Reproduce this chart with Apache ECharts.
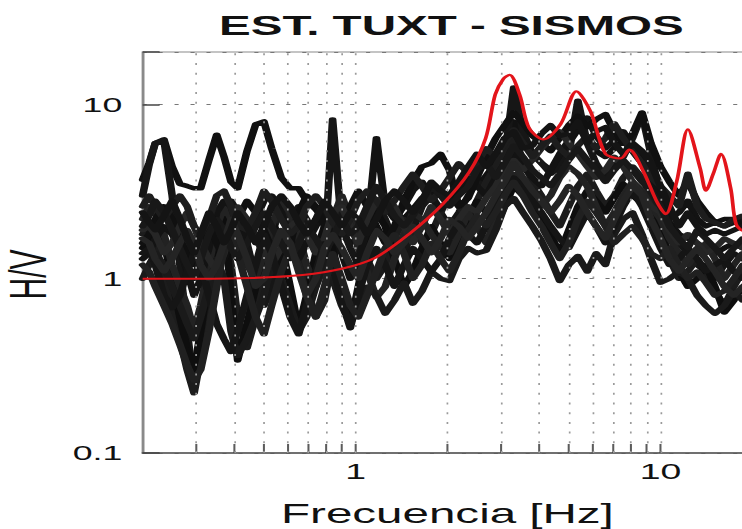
<!DOCTYPE html>
<html>
<head>
<meta charset="utf-8">
<script src="https://cdn.jsdelivr.net/npm/echarts@6/dist/echarts.min.js"></script>
<style>
html,body{margin:0;padding:0;background:#fff;overflow:hidden;}
#c{width:437px;height:529px;transform:scaleX(1.698);transform-origin:0 0;}
</style>
</head>
<body>
<div id="c"></div>
<script>
// ---- data ----
const titleText = 'EST. TUXT - SISMOS';
const xName = 'Frecuencia [Hz]';
const yName = 'H/V';
const xTickLabels = ['1', '10'];
const yTickLabels = ['0.1', '1', '10'];
const xGridValues = [0.3,0.4,0.5,0.6,0.7,0.8,0.9,1,2,3,4,5,6,7,8,9,10];
const xMinorTicks = [0.3,0.4,0.5,0.6,0.7,0.8,0.9,1,2,3,4,5,6,7,8,9,10];

const freq = [0.2,0.21,0.22,0.235,0.25,0.265,0.28,0.295,0.31,0.33,0.35,
  0.37,0.39,0.41,0.44,0.47,0.5,0.53,0.57,0.61,0.65,
  0.69,0.74,0.79,0.84,0.9,0.96,1.02,1.09,1.17,1.25,
  1.34,1.44,1.54,1.65,1.77,1.9,2.03,2.18,2.34,2.5,
  2.68,2.88,3.08,3.3,3.54,3.8,4.07,4.36,4.67,5.0,
  5.36,5.75,6.15,6.6,7.05,7.55,8.1,8.7,9.3,10,
  10.7,11.5,12.3,13.2,14.1,15.1,16.2,17.4,18.6,20];

const hv01 = [3.7,4.6,6.0,6.3,4.4,3.5,3.4,3.3,3.3,4.8,6.7,
  5.0,3.6,3.3,5.4,7.7,8.0,5.6,3.8,3.3,3.3,
  2.8,2.5,2.2,2.0,1.8,1.6,1.7,2.0,2.3,2.6,
  2.4,2.2,2.5,2.9,3.2,3.0,2.8,3.2,3.6,3.4,
  3.9,4.6,5.5,8.0,6.5,5.2,4.6,4.2,4.8,6.0,
  7.2,6.5,5.4,5.0,5.6,6.2,5.4,4.6,3.6,2.6,
  2.1,1.8,1.7,1.6,1.5,1.4,1.5,1.6,1.5,1.4,1.5];
const hv02 = [3.0,4.5,6.0,6.2,3.0,1.2,0.5,0.24,0.4,0.8,1.4,
  2.2,2.8,2.4,1.6,1.0,0.7,0.9,1.4,2.2,2.6,
  2.2,1.6,1.4,8.2,2.0,1.5,1.2,1.8,2.8,2.2,
  1.6,1.4,1.9,2.6,3.0,2.4,2.0,2.4,3.0,3.6,
  3.4,4.2,5.0,12.5,7.0,5.2,4.6,4.0,4.4,5.2,
  10.5,6.0,4.6,3.8,4.4,5.0,6.4,8.8,5.2,3.0,
  2.0,1.6,1.4,1.2,1.1,1.0,1.2,1.4,1.3,1.2];
const hv03 = [1.8,2.0,1.6,1.0,0.68,0.45,0.3,0.22,0.35,0.7,1.3,
  1.8,1.2,0.6,0.4,0.6,1.1,1.8,2.6,2.2,1.4,
  0.9,0.6,0.75,1.3,2.0,2.4,1.8,1.3,1.0,1.2,
  1.7,2.2,2.0,1.6,1.8,2.4,3.0,2.6,2.2,2.8,
  3.6,4.4,5.6,6.5,4.8,3.6,3.0,2.4,2.0,2.6,
  3.4,4.0,3.2,2.6,3.0,3.8,4.4,3.8,3.0,2.0,
  1.3,1.0,1.1,1.3,1.1,0.85,0.7,0.9,1.1,1.0];
const hv04 = [1.5,1.7,2.0,1.6,1.0,0.6,0.4,0.3,0.5,1.0,1.9,
  2.4,0.8,0.34,0.55,0.9,1.3,2.2,1.6,0.9,0.52,
  0.8,1.4,2.0,1.5,0.9,0.55,0.9,1.6,2.4,2.0,
  1.3,0.9,1.1,1.5,2.0,1.6,1.3,1.6,2.2,2.8,
  2.4,2.0,2.6,3.4,3.0,2.6,2.2,1.8,1.4,1.9,
  2.6,3.2,2.8,2.4,2.9,3.5,3.0,2.7,2.5,1.8,
  1.4,1.1,0.9,1.0,1.2,0.9,0.64,0.75,0.9,0.8];
const hv05 = [2.2,2.6,2.4,1.8,1.2,0.9,0.7,0.5,0.7,1.2,2.0,
  2.6,2.2,1.6,1.2,1.0,1.4,2.0,2.8,2.4,1.8,
  1.2,0.9,1.2,2.2,3.0,2.2,1.5,1.1,0.78,0.9,
  1.3,1.8,2.4,2.2,1.8,1.5,1.4,1.8,2.4,2.0,
  1.6,2.2,3.0,4.0,3.6,3.0,2.6,3.0,3.8,4.4,
  4.0,3.4,2.6,2.0,2.4,3.0,3.6,3.2,2.6,2.2,
  1.7,1.4,1.2,1.4,1.6,1.3,1.0,1.2,1.4,1.3];
const hv06 = [1.3,1.4,1.7,2.0,1.8,1.5,1.1,0.8,1.0,1.5,2.4,
  2.8,2.6,2.0,1.6,2.2,2.8,3.0,2.4,1.7,1.3,
  1.6,2.0,2.5,2.0,1.4,1.0,1.3,1.9,6.4,2.6,
  2.2,2.6,3.2,3.6,3.0,2.5,2.8,3.4,3.8,3.4,
  3.0,3.8,4.6,5.4,4.4,3.8,3.4,4.2,5.2,6.2,
  7.6,8.4,6.6,5.6,6.2,7.0,5.8,4.8,4.0,2.8,
  2.2,2.4,2.8,2.2,2.0,2.1,2.0,2.1,2.2,2.1];
const hv07 = [1.0,1.2,1.4,1.2,0.9,0.7,0.55,0.45,0.6,0.9,1.3,
  1.0,0.5,0.36,0.45,0.6,0.8,1.2,1.0,0.7,0.5,
  0.6,0.9,1.3,1.0,0.7,0.55,0.7,0.9,0.8,0.63,
  0.75,0.95,0.72,0.85,1.1,1.0,0.97,1.3,1.5,1.4,
  1.45,1.9,2.6,2.9,2.4,2.0,1.65,1.3,0.97,1.2,
  1.35,1.1,1.4,1.2,1.8,2.2,2.4,1.8,1.3,0.95,
  1.0,1.1,1.0,0.8,0.7,0.63,0.7,0.85,0.75,0.8];
const hv08 = [1.6,1.8,2.2,2.6,2.2,1.7,1.4,1.2,1.5,2.0,1.6,
  1.3,1.6,2.2,2.8,2.4,1.9,1.5,1.2,1.6,2.4,
  3.0,2.6,2.0,1.6,1.9,2.6,3.2,2.6,2.0,1.6,
  2.0,2.8,3.6,4.4,4.6,5.2,4.2,2.6,2.9,3.8,
  5.0,6.4,7.6,9.0,7.8,6.6,6.0,5.4,6.4,7.6,
  8.6,7.4,8.2,8.8,7.0,6.0,6.8,9.0,6.0,4.4,
  3.6,3.0,3.6,2.8,2.4,2.1,2.2,2.2,2.0,1.9];
const hv09 = [1.9,2.0,1.8,1.4,1.6,2.0,2.4,2.0,1.6,1.3,1.1,
  1.4,2.0,2.6,2.2,1.7,1.4,1.2,1.5,2.0,2.2,
  1.8,1.4,1.7,2.4,2.6,2.0,1.6,2.2,2.8,3.0,
  2.6,2.0,1.6,2.0,2.6,2.2,1.8,2.2,2.6,2.4,
  2.9,3.4,4.2,4.8,4.2,4.8,5.6,6.4,7.0,6.0,
  5.2,4.4,3.8,4.2,5.0,4.4,3.6,3.0,2.6,2.4,
  1.9,1.6,1.8,1.6,1.4,1.5,1.7,1.6,1.5,1.6];
const hv10 = [1.4,1.5,1.2,0.8,0.68,0.8,1.1,1.4,1.2,0.8,0.55,
  0.45,0.38,0.5,0.8,1.2,1.8,1.4,0.9,0.6,0.48,
  0.7,1.1,1.6,1.2,0.75,0.52,0.8,1.2,1.5,1.2,
  0.9,1.2,1.5,1.3,1.1,1.3,1.7,2.1,1.8,1.6,
  2.0,2.6,3.4,3.8,3.4,2.8,2.4,2.0,1.7,1.5,
  1.9,2.4,2.0,1.6,2.0,2.6,3.2,2.6,2.0,1.5,
  1.2,1.3,1.5,1.3,1.1,1.2,1.3,1.1,1.0,1.1];
const hv11 = [2.6,3.0,2.6,2.2,2.6,3.0,2.6,2.0,1.8,2.2,3.0,
  3.2,2.6,2.0,1.9,2.4,3.2,2.8,2.2,1.8,2.0,
  2.6,3.0,2.6,2.1,1.8,2.2,2.8,3.2,2.8,2.4,
  2.8,3.4,4.0,3.4,2.8,3.2,3.8,4.6,4.0,4.6,
  5.6,5.0,6.0,7.2,6.0,5.0,5.8,6.6,5.6,5.0,
  5.8,6.6,5.6,6.4,7.8,6.4,5.4,4.6,3.8,3.4,
  3.0,2.6,4.0,2.6,2.2,2.1,2.0,2.2,2.3,2.2];
const hv12 = [1.2,1.1,0.9,0.7,0.55,0.42,0.32,0.26,0.3,0.5,0.9,
  1.5,1.9,1.4,0.9,0.6,0.48,0.7,1.1,1.5,1.2,
  0.8,0.6,0.9,1.4,1.0,0.7,0.6,0.8,1.1,1.5,
  1.8,1.4,1.0,1.2,1.6,1.3,1.1,1.4,1.9,2.3,
  2.0,2.4,3.0,3.6,3.0,2.4,2.0,1.6,1.3,1.6,
  2.2,2.8,2.4,2.0,1.6,1.8,2.0,1.7,1.4,1.3,
  1.5,1.2,1.0,1.1,0.95,0.8,0.85,1.0,1.2,1.1];
const hv13 = [2.0,2.3,2.8,2.4,1.9,1.5,1.2,1.0,1.3,1.8,2.2,
  1.9,1.5,1.3,1.6,2.0,2.4,2.0,1.6,1.3,1.6,
  2.0,1.7,1.4,1.7,2.2,1.8,2.0,2.6,3.4,2.8,
  2.3,2.0,2.3,2.8,3.4,3.0,2.6,3.0,3.4,4.2,
  4.6,3.8,4.6,5.8,5.0,4.2,3.8,3.4,4.0,4.8,
  5.6,4.8,4.2,3.6,4.2,4.8,4.2,3.6,3.2,2.6,
  2.0,1.7,1.5,1.9,1.7,1.5,1.3,1.5,1.7,1.6];
const hv14 = [1.7,1.6,1.3,1.1,1.3,1.6,1.9,1.6,1.2,1.0,1.2,
  1.6,2.2,1.8,1.3,0.9,1.0,1.4,1.9,1.6,1.1,
  0.8,1.0,1.5,1.8,1.5,1.2,1.0,1.4,1.9,1.7,
  1.4,1.6,2.0,1.7,1.4,1.7,2.2,2.0,1.7,2.0,
  2.4,3.0,3.6,4.6,3.8,3.2,2.8,2.4,2.8,3.4,
  3.0,2.4,2.0,1.7,2.2,2.8,3.4,3.0,2.2,1.7,
  1.3,1.1,1.3,1.5,1.3,1.1,0.9,0.8,0.9,1.0];
const hv15 = [2.4,2.1,1.9,2.3,2.8,2.2,1.7,1.4,1.8,2.4,2.0,
  1.6,1.9,2.4,2.0,1.6,2.0,2.6,3.0,2.6,2.1,
  1.8,2.2,2.8,2.4,2.0,2.4,2.2,1.8,2.2,2.8,
  3.2,2.8,2.4,2.8,3.6,3.2,3.0,3.6,4.4,5.2,
  4.4,5.2,6.4,7.0,5.6,5.8,6.8,7.6,6.6,6.8,
  8.0,6.0,7.0,7.4,6.0,5.2,6.0,5.4,4.6,3.4,
  2.6,2.0,2.4,2.0,1.8,1.9,1.8,1.9,2.0,1.9];

const redFreq = [0.2,0.3,0.46,0.67,0.9,1.16,1.5,1.93,2.36,2.67,2.87,3.05,3.2,3.45,3.71,
  4.13,4.7,5.3,5.9,6.6,7.4,7.9,8.8,9.7,10.4,11.3,12.3,13.5,14.1,14.9,15.8,17.0,17.7,18.8,20];
const redHV = [1.0,1.0,1.01,1.05,1.14,1.32,1.81,2.68,4.1,6.4,11.4,14.0,14.8,11.4,7.3,
  6.3,7.7,11.9,9.1,5.2,4.9,5.5,4.1,2.8,2.35,3.6,7.2,4.3,3.2,4.0,5.2,3.3,2.06,1.88,1.9];

const blackCurves = [hv01,hv02,hv03,hv04,hv05,hv06,hv07,hv08,hv09,hv10,hv11,hv12,hv13,hv14,hv15];
const blackColors = ['#111111','#161616','#1c1c1c','#0e0e0e','#222222','#131313',
  '#1a1a1a','#101010','#262626','#151515','#1d1d1d','#202020','#181818','#242424','#141414'];

// ---- chart ----
const FONT = "'Liberation Sans', Arial, Helvetica, sans-serif";
function isDecade(v){ const l = Math.log10(v); return Math.abs(l - Math.round(l)) < 1e-6; }
function fmtTick(v, labels){
  if (!isDecade(v)) return '';
  const s = String(+v.toPrecision(6));
  return labels.indexOf(s) >= 0 ? s : '';
}

const series = [];
blackCurves.forEach((vals, k) => {
  series.push({
    type: 'line', name: 'sismo' + (k + 1),
    data: freq.map((f, i) => [f, vals[i]]),
    showSymbol: false, symbol: 'none', smooth: false,
    lineStyle: { color: blackColors[k], width: 4.5, join: 'round', cap: 'round' },
    z: 3, silent: true, animation: false
  });
});
series.push({
  type: 'line', name: 'promedio',
  data: redFreq.map((f, i) => [f, redHV[i]]),
  showSymbol: false, symbol: 'none', smooth: 0.3,
  lineStyle: { color: '#e3151b', width: 2.2 },
  z: 6, silent: true, animation: false
});
series.push({
  type: 'scatter', name: 'ticks',
  data: xMinorTicks.map(f => [f, 0.1]),
  symbol: 'rect', symbolSize: [1.2, 9], symbolOffset: [0, -4.5],
  itemStyle: { color: '#333' }, clip: false, z: 4, silent: true, animation: false,
  markLine: {
    silent: true, symbol: ['none', 'none'], animation: false,
    label: { show: false },
    lineStyle: { color: '#9a9a9a', type: [2, 7.7], width: 1 },
    data: xGridValues.map(f => ({ xAxis: f }))
  }
});

const chart = echarts.init(document.getElementById('c'), null, { renderer: 'svg' });
chart.setOption({
  backgroundColor: '#fff',
  animation: false,
  title: {
    text: titleText, left: 124, top: 6,
    textStyle: { fontFamily: FONT, fontSize: 28, fontWeight: 'bold', color: '#111' }
  },
  grid: {
    left: 84, right: -6, top: 52, bottom: 76,
    outerBoundsMode: 'none', containLabel: false,
    show: true, borderColor: '#8a8a8a', borderWidth: 1.2, backgroundColor: 'transparent'
  },
  xAxis: {
    type: 'log', logBase: 10, min: 0.2, max: 20,
    name: xName, nameLocation: 'middle', nameGap: 46,
    nameTextStyle: { fontFamily: FONT, fontSize: 28, color: '#111' },
    axisLine: { show: true, lineStyle: { color: '#555', width: 1.5 } },
    axisTick: { show: false },
    axisLabel: { fontFamily: FONT, fontSize: 22, color: '#111', margin: 7,
      showMinLabel: false, showMaxLabel: false,
      formatter: v => fmtTick(v, xTickLabels) },
    splitLine: { show: false }
  },
  yAxis: {
    type: 'log', logBase: 10, min: 0.1, max: 20,
    name: yName, nameLocation: 'middle', nameRotate: 90, nameGap: 48,
    nameTextStyle: { fontFamily: FONT, fontSize: 30, color: '#111', padding: [0, 44, 0, 0] },
    axisLine: { show: true, lineStyle: { color: '#8a8a8a', width: 1.2 } },
    axisTick: { show: true, inside: true, length: 10, lineStyle: { color: '#444', width: 1.5 } },
    axisLabel: { fontFamily: FONT, fontSize: 21, color: '#111', margin: 12,
      formatter: v => fmtTick(v, yTickLabels) },
    splitLine: { show: true, lineStyle: { color: '#777', type: [2.4, 7], width: 1 } }
  },
  series: series
});
</script>
</body>
</html>
